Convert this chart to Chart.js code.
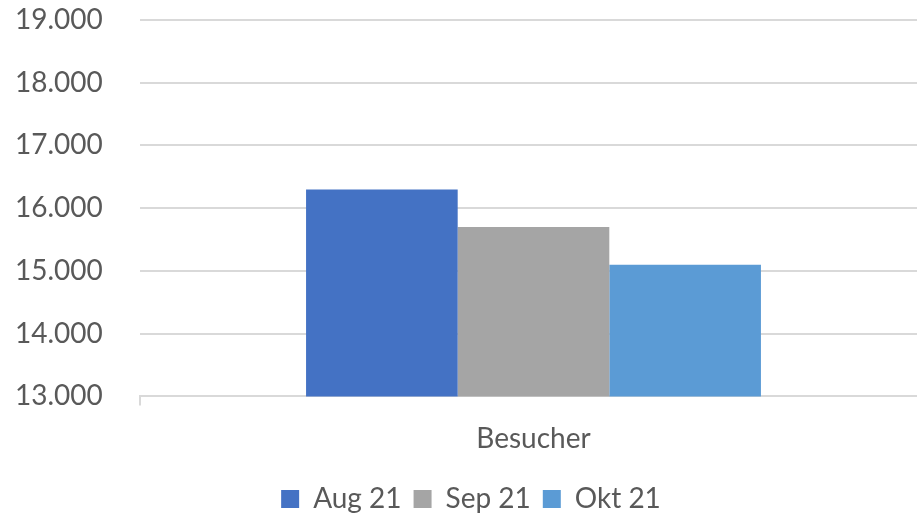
<!DOCTYPE html>
<html>
<head>
<meta charset="utf-8">
<script src="https://cdn.jsdelivr.net/npm/chart.js@4"></script>
<style>
html,body{margin:0;padding:0;background:#fff;overflow:hidden;width:917px;height:515px;}
#wrap{width:927px;height:515px;}
</style>
</head>
<body>
<div id="wrap"><canvas id="c" width="927" height="515"></canvas></div>
<script>
const categories = ["Besucher"];
const seriesNames = ["Aug 21", "Sep 21", "Okt 21"];
const aug21 = [16300];
const sep21 = [15700];
const okt21 = [15100];
const seriesColors = ["#4472C4", "#A5A5A5", "#5B9BD5"];
const yMin = 13000, yMax = 19000, yStep = 1000;

const FONT = "Lato";
const TXT = "#595959";
const GRID = "#D9D9D9";

const values = [aug21, sep21, okt21];
new Chart(document.getElementById("c"), {
  type: "bar",
  data: {
    labels: categories,
    datasets: seriesNames.map((n, i) => ({
      label: n,
      data: values[i],
      backgroundColor: seriesColors[i],
      borderWidth: 0,
      categoryPercentage: 0.578,
      barPercentage: 1.0
    }))
  },
  options: {
    responsive: false,
    animation: false,
    layout: { padding: { top: 20, right: 0, bottom: -8, left: 15 } },
    plugins: {
      tooltip: { enabled: false },
      legend: {
        position: "bottom",
        labels: {
          color: TXT,
          font: { family: FONT, size: 28 },
          boxWidth: 18,
          boxHeight: 18,
          padding: 12
        }
      }
    },
    scales: {
      x: {
        grid: { display: true, drawOnChartArea: false, drawTicks: true, tickLength: 9, color: GRID, lineWidth: 2 },
        border: { display: true, color: GRID, width: 2 },
        ticks: { color: TXT, font: { family: FONT, size: 28 }, padding: 17 }
      },
      y: {
        min: yMin, max: yMax,
        afterFit: (s) => { s.width = 125; },
        grid: { color: GRID, lineWidth: 2, drawTicks: false },
        border: { display: false },
        ticks: {
          stepSize: yStep,
          color: TXT,
          font: { family: FONT, size: 28 },
          padding: 0,
          crossAlign: "far",
          callback: (v) => v.toLocaleString("de-DE")
        }
      }
    }
  }
});
</script>
</body>
</html>
